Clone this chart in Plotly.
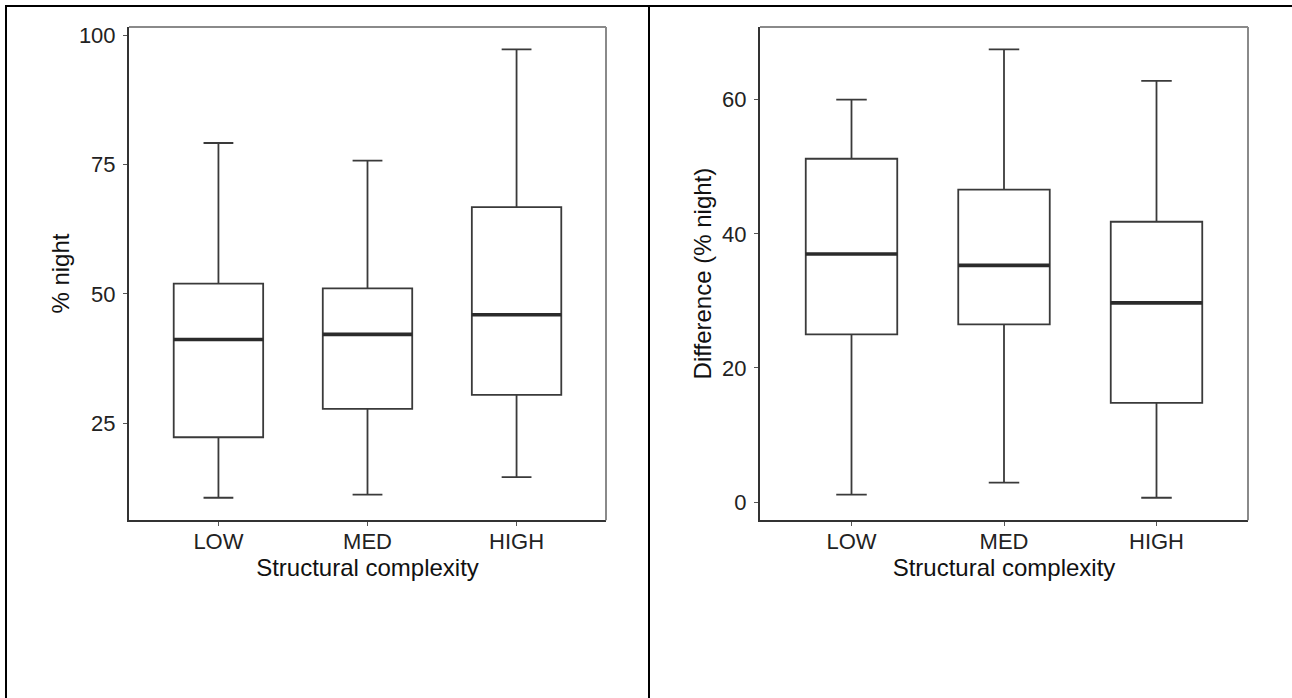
import plotly.graph_objects as go

# ---------------- data ----------------
categories = ["LOW", "MED", "HIGH"]

# Panel A: % night
night_low = [10.6, 11.2, 14.6]
night_q1 = [22.3, 27.8, 30.5]
night_median = [41.2, 42.2, 46.0]
night_q3 = [52.0, 51.1, 66.8]
night_high = [79.2, 75.8, 97.3]
night_ticks = [25, 50, 75, 100]

# Panel B: Difference (% night)
diff_low = [1.1, 2.9, 0.65]
diff_q1 = [25.0, 26.5, 14.8]
diff_median = [37.0, 35.3, 29.7]
diff_q3 = [51.2, 46.6, 41.8]
diff_high = [60.0, 67.5, 62.8]
diff_ticks = [0, 20, 40, 60]

x_title = "Structural complexity"
y_title_a = "% night"
y_title_b = "Difference (% night)"

# ---------------- style ----------------
W, H = 1292, 698
# small vertical correction for how the page is captured
Y_SHIFT, Y_SCALE = 4.0, 0.994
FONT = "Liberation Sans, Arial, Helvetica, sans-serif"
BOX_W = 0.6
LINE_C = "#3a3a3a"
MED_C = "#2b2b2b"
TICK_SIZE = 22
TITLE_SIZE = 24

def px(x):
    return x / W

def py(y):
    return 1 - ((y - Y_SHIFT) / Y_SCALE) / H

positions = list(range(1, len(categories) + 1))

fig = go.Figure()


def add_panel(fig, lows, q1s, meds, q3s, highs, xa, ya):
    for i, pos in enumerate(positions):
        fig.add_trace(go.Box(
            x=[pos], q1=[q1s[i]], median=[meds[i]], q3=[q3s[i]],
            lowerfence=[lows[i]], upperfence=[highs[i]],
            width=BOX_W, whiskerwidth=0.2 / BOX_W,
            fillcolor="white", line=dict(color=LINE_C, width=1.8),
            boxpoints=False, showlegend=False, hoverinfo="skip",
            xaxis=xa, yaxis=ya,
        ))
        # thicker median bar (ggplot fatten)
        fig.add_trace(go.Scatter(
            x=[pos - BOX_W / 2, pos + BOX_W / 2], y=[meds[i], meds[i]],
            mode="lines", line=dict(color=MED_C, width=3.6),
            showlegend=False, hoverinfo="skip", xaxis=xa, yaxis=ya,
        ))


add_panel(fig, night_low, night_q1, night_median, night_q3, night_high, "x", "y")
add_panel(fig, diff_low, diff_q1, diff_median, diff_q3, diff_high, "x2", "y2")


def expand(lo, hi, f=0.05):
    span = hi - lo
    return [lo - f * span, hi + f * span]


range_a = expand(min(night_low), max(night_high))
range_b = expand(min(diff_low), max(diff_high))

ydom = [py(520), py(27)]

common_x = dict(
    range=[0.4, len(categories) + 0.6], tickvals=positions, ticktext=categories,
    showline=True, linecolor="#333333", linewidth=2,
    ticks="outside", ticklen=4, tickwidth=1.2, tickcolor="#555555",
    showgrid=False, zeroline=False,
    tickfont=dict(family=FONT, size=TICK_SIZE, color="#222222"),
    ticklabelstandoff=-4,
    title=dict(text=x_title, font=dict(family=FONT, size=TITLE_SIZE, color="#111111"), standoff=7),
)
common_y = dict(
    showline=True, linecolor="#333333", linewidth=2,
    ticks="outside", ticklen=4, tickwidth=1.2, tickcolor="#555555",
    showgrid=False, zeroline=False,
    tickfont=dict(family=FONT, size=TICK_SIZE, color="#222222"),
    ticklabelstandoff=3,
)

fig.update_layout(
    width=W, height=H,
    margin=dict(l=0, r=0, t=0, b=0),
    paper_bgcolor="white", plot_bgcolor="white",
    font=dict(family=FONT),
    xaxis=dict(domain=[px(129), px(606)], anchor="y", **common_x),
    xaxis2=dict(domain=[px(760), px(1248)], anchor="y2", **common_x),
    yaxis=dict(domain=ydom, anchor="x", range=range_a, tickvals=night_ticks,
               title=dict(text=y_title_a, font=dict(family=FONT, size=TITLE_SIZE, color="#111111"), standoff=2),
               **common_y),
    yaxis2=dict(domain=ydom, anchor="x2", range=range_b, tickvals=diff_ticks,
                title=dict(text=y_title_b, font=dict(family=FONT, size=TITLE_SIZE, color="#111111"), standoff=4),
                **common_y),
)

shapes = []
# gray top/right panel borders
for xr, yr in (("x domain", "y domain"), ("x2 domain", "y2 domain")):
    shapes.append(dict(type="line", xref=xr, yref=yr, x0=0, x1=1, y0=1, y1=1,
                       line=dict(color="#8a8a8a", width=2)))
    shapes.append(dict(type="line", xref=xr, yref=yr, x0=1, x1=1, y0=0, y1=1,
                       line=dict(color="#8a8a8a", width=2)))
# outer frame (table-like)
shapes.append(dict(type="line", xref="paper", yref="paper", x0=px(5), x1=1, y0=py(6), y1=py(6),
                   line=dict(color="black", width=2)))
shapes.append(dict(type="line", xref="paper", yref="paper", x0=px(6), x1=px(6), y0=0, y1=py(5),
                   line=dict(color="black", width=2)))
shapes.append(dict(type="line", xref="paper", yref="paper", x0=px(649), x1=px(649), y0=0, y1=py(5),
                   line=dict(color="black", width=2)))
fig.update_layout(shapes=shapes)

fig.write_html(
    "out.html",
    config={"displayModeBar": False},
    post_script="document.body.style.margin='0';document.body.style.overflow='hidden';",
)
